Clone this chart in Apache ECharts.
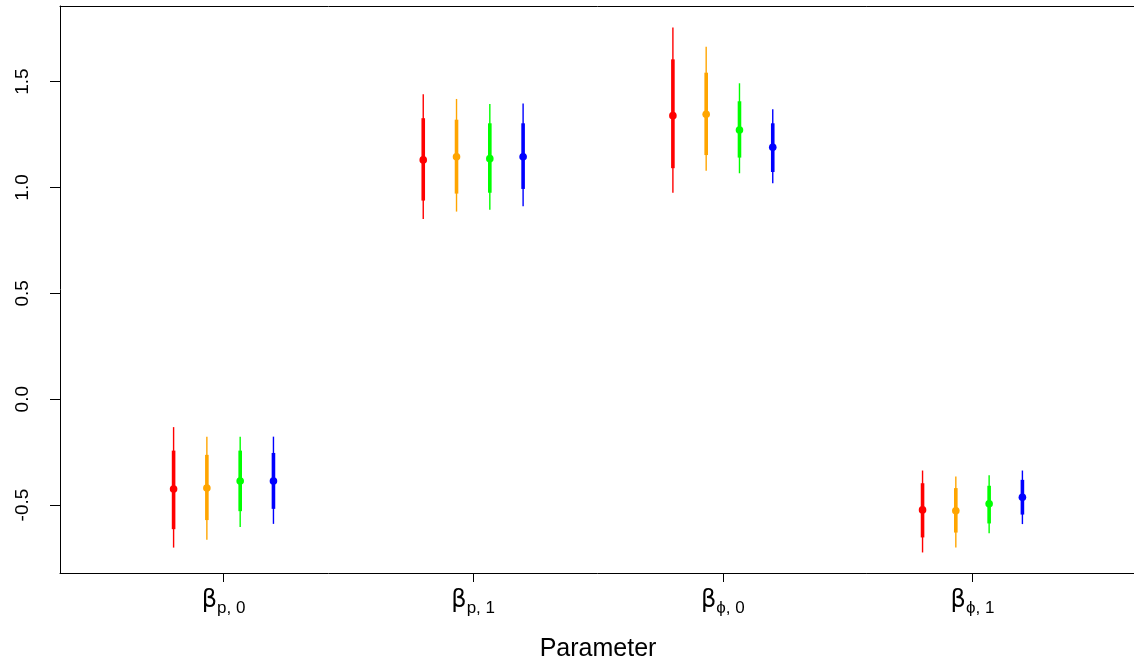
<!DOCTYPE html>
<html>
<head>
<meta charset="utf-8">
<script src="https://cdn.jsdelivr.net/npm/echarts@6/dist/echarts.min.js"></script>
<style>
  html, body { margin: 0; padding: 0; background: #fff; }
  #chart { width: 1134px; height: 662px; }
</style>
</head>
<body>
<div id="chart"></div>
<script>
// Parameter names: Greek beta with a subscript
const paramSubscripts = ['p, 0', 'p, 1', '\u03d5, 0', '\u03d5, 1'];
const paramTicks = [1, 2, 3, 4];
const yTicks = [-0.5, 0.0, 0.5, 1.0, 1.5];

// Posterior summaries per fit (one entry per parameter)
const redMid  = [-0.424, 1.130, 1.339, -0.523];
const redLo50 = [-0.614, 0.938, 1.091, -0.653];
const redHi50 = [-0.243, 1.327, 1.605, -0.397];
const redLo95 = [-0.701, 0.851, 0.975, -0.724];
const redHi95 = [-0.132, 1.440, 1.756, -0.337];

const orangeMid  = [-0.420, 1.145, 1.346, -0.527];
const orangeLo50 = [-0.571, 0.971, 1.153, -0.630];
const orangeHi50 = [-0.263, 1.320, 1.542, -0.420];
const orangeLo95 = [-0.664, 0.886, 1.079, -0.701];
const orangeHi95 = [-0.177, 1.418, 1.665, -0.365];

const greenMid  = [-0.387, 1.136, 1.271, -0.494];
const greenLo50 = [-0.529, 0.975, 1.141, -0.587];
const greenHi50 = [-0.243, 1.303, 1.407, -0.409];
const greenLo95 = [-0.604, 0.895, 1.067, -0.633];
const greenHi95 = [-0.177, 1.394, 1.492, -0.359];

const blueMid  = [-0.387, 1.145, 1.190, -0.463];
const blueLo50 = [-0.518, 0.993, 1.073, -0.545];
const blueHi50 = [-0.254, 1.303, 1.303, -0.381];
const blueLo95 = [-0.589, 0.911, 1.020, -0.590];
const blueHi95 = [-0.177, 1.397, 1.369, -0.337];

const fits = [
  { name: 'fit 1', color: '#ff0000', mid: redMid, lo50: redLo50, hi50: redHi50, lo95: redLo95, hi95: redHi95 },
  { name: 'fit 2', color: '#ffa500', mid: orangeMid, lo50: orangeLo50, hi50: orangeHi50, lo95: orangeLo95, hi95: orangeHi95 },
  { name: 'fit 3', color: '#00ff00', mid: greenMid, lo50: greenLo50, hi50: greenHi50, lo95: greenLo95, hi95: greenHi95 },
  { name: 'fit 4', color: '#0000ff', mid: blueMid, lo50: blueLo50, hi50: blueHi50, lo95: blueLo95, hi95: blueHi95 }
];

// horizontal dodge of the four fits around each parameter position
const dodge = [-0.2, -0.0667, 0.0667, 0.2];

function renderInterval(params, api) {
  const x = api.value(0);
  const pLo95 = api.coord([x, api.value(1)]);
  const pLo50 = api.coord([x, api.value(2)]);
  const pMid  = api.coord([x, api.value(3)]);
  const pHi50 = api.coord([x, api.value(4)]);
  const pHi95 = api.coord([x, api.value(5)]);
  const color = api.visual('color');
  return {
    type: 'group',
    children: [
      { type: 'line', shape: { x1: pLo95[0], y1: pLo95[1], x2: pHi95[0], y2: pHi95[1] },
        style: { stroke: color, lineWidth: 1.4 } },
      { type: 'line', shape: { x1: pLo50[0], y1: pLo50[1], x2: pHi50[0], y2: pHi50[1] },
        style: { stroke: color, lineWidth: 3.6 } },
      { type: 'circle', shape: { cx: pMid[0], cy: pMid[1], r: 3.8 },
        style: { fill: color } }
    ]
  };
}

const series = fits.map((f, k) => ({
  type: 'custom',
  name: f.name,
  color: f.color,
  renderItem: renderInterval,
  encode: { x: 0, y: [1, 2, 3, 4, 5] },
  data: f.mid.map((m, i) => [paramTicks[i] + dodge[k], f.lo95[i], f.lo50[i], m, f.hi50[i], f.hi95[i]])
}));

const X_MIN = 0.345, X_MAX = 4.655;

const chart = echarts.init(document.getElementById('chart'));
chart.setOption({
  animation: false,
  backgroundColor: '#ffffff',
  textStyle: { fontFamily: 'Liberation Sans, Arial, sans-serif' },
  grid: { left: 60, right: -2, top: 6, bottom: 89, show: false, outerBoundsMode: 'none', containLabel: false },
  xAxis: [
    {
      type: 'value',
      position: 'bottom',
      min: X_MIN,
      max: X_MAX,
      name: 'Parameter',
      nameLocation: 'middle',
      nameGap: 64,
      nameTextStyle: { color: '#000', fontSize: 25, fontFamily: 'Liberation Sans, Arial, sans-serif' },
      splitLine: { show: false },
      axisLine: { show: true, onZero: false, lineStyle: { color: '#000', width: 1 } },
      axisTick: { show: true, length: 9, customValues: paramTicks, lineStyle: { color: '#000' } },
      axisLabel: {
        show: true,
        customValues: paramTicks,
        margin: 10,
        formatter: function (v) {
          const i = paramTicks.indexOf(Math.round(v));
          return '{b|\u03b2}{s|' + paramSubscripts[i] + '}';
        },
        rich: {
          b: { fontSize: 24, color: '#000', fontFamily: 'DejaVu Sans, Liberation Sans, sans-serif', verticalAlign: 'bottom', lineHeight: 30 },
          s: { fontSize: 17, color: '#000', fontFamily: 'Liberation Sans, Arial, sans-serif', verticalAlign: 'bottom', lineHeight: 18, padding: [0, 0, -4, 0] }
        }
      }
    },
    {
      // top edge of the plot frame
      type: 'value',
      position: 'top',
      min: X_MIN,
      max: X_MAX,
      splitLine: { show: false },
      axisLine: { show: true, onZero: false, lineStyle: { color: '#000', width: 1 } },
      axisTick: { show: false },
      axisLabel: { show: false }
    }
  ],
  yAxis: {
    type: 'value',
    min: -0.821,
    max: 1.857,
    splitLine: { show: false },
    axisLine: { show: true, onZero: false, lineStyle: { color: '#000', width: 1 } },
    axisTick: { show: true, length: 10, customValues: yTicks, lineStyle: { color: '#000' } },
    axisLabel: {
      show: true,
      customValues: yTicks,
      rotate: 90,
      margin: 28,
      fontSize: 19,
      color: '#000',
      formatter: v => v.toFixed(1)
    }
  },
  series: series
});
</script>
</body>
</html>
